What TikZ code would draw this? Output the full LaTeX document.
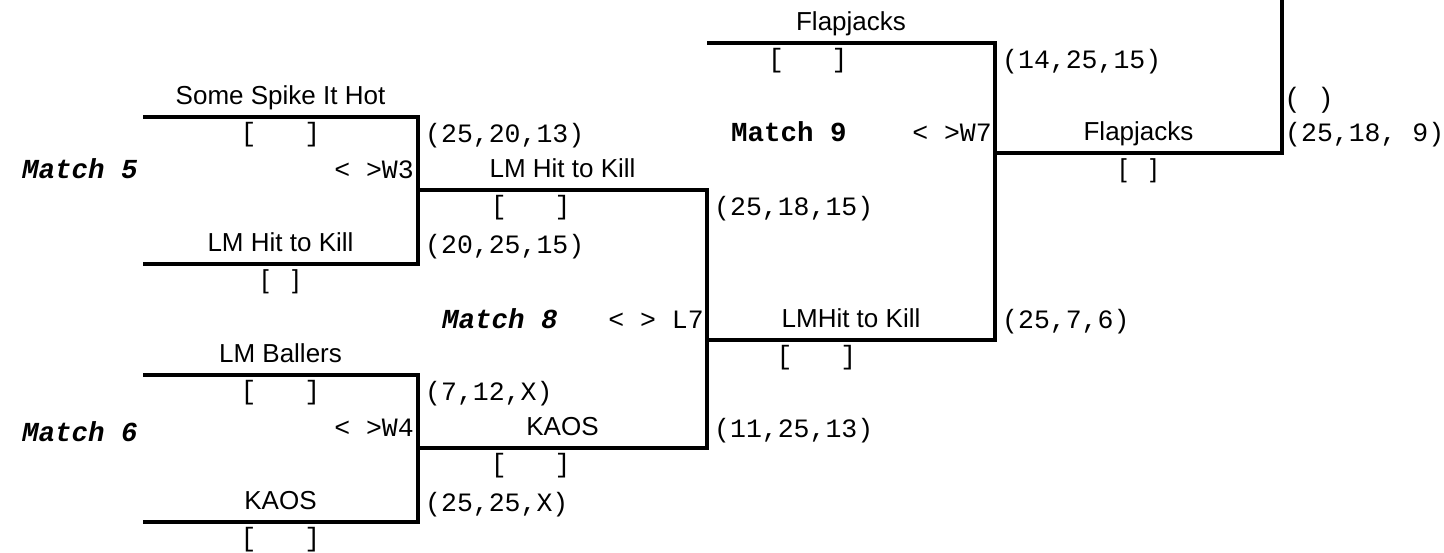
\documentclass[tikz,border=0pt]{standalone}
\usepackage{fontspec}
\setmainfont{Liberation Sans}
\setmonofont{Liberation Mono}
\usetikzlibrary{positioning}

\newcommand{\emptyslot}{[\ \ \ ]}
\newcommand{\monosize}{\fontsize{26.5}{31}\selectfont\ttfamily}

\begin{document}
\begin{tikzpicture}[x=1pt, y=-1pt, font=\fontsize{26}{31}\selectfont,
    bracket/.style={line width=3.5pt},
    team/.style={anchor=base, yshift=13pt, inner sep=0pt},
    slot/.style={anchor=base, yshift=-24pt, inner sep=0pt, font=\monosize},
    bigslot/.style={anchor=base, yshift=-24pt, inner sep=0pt},
    score/.style={anchor=base west, inner sep=0pt, font=\monosize},
    tag/.style={anchor=base east, inner sep=0pt, font=\monosize},
    matchlbl/.style={anchor=base west, inner sep=0pt, font=\fontsize{27.5}{32}\selectfont\ttfamily\bfseries}]
  \useasboundingbox (0,0) rectangle (1444,552);
  % corners of the bracket
  \coordinate (p5a) at (143,117); \coordinate (m5t) at (418,117);
  \coordinate (m5b) at (418,264); \coordinate (p5b) at (143,264);
  \coordinate (m5o) at (418,190);
  \coordinate (p6a) at (143,375); \coordinate (m6t) at (418,375);
  \coordinate (m6b) at (418,522); \coordinate (p6b) at (143,522);
  \coordinate (m6o) at (418,448);
  \coordinate (m8t) at (707,190); \coordinate (m8b) at (707,448);
  \coordinate (m8o) at (707,340);
  \coordinate (m9a) at (707,43); \coordinate (m9t) at (995,43);
  \coordinate (m9b) at (995,340); \coordinate (m9o) at (995,153);
  \coordinate (fin) at (1282,153); \coordinate (fintop) at (1282,0);

  % match 5
  \draw[bracket] (p5a) -- node[team] (t5a) {Some Spike It Hot} node[slot] (s5a) {\emptyslot} (m5t)
    -- (m5b) -- node[team] (t5b) {LM Hit to Kill} node[bigslot] (s5b) {[\hspace{.9em}]} (p5b);
  % match 6
  \draw[bracket] (p6a) -- node[team] (t6a) {LM Ballers} node[slot] (s6a) {\emptyslot} (m6t)
    -- (m6b) -- node[team] (t6b) {KAOS} node[slot] (s6b) {\emptyslot} (p6b);
  % match 8
  \draw[bracket] (m5o) -- node[team] (t8a) {LM Hit to Kill} node[slot, pos=.39] (s8a) {\emptyslot} (m8t)
    -- (m8b) -- node[team] (t8b) {KAOS} node[slot, pos=.61] (s8b) {\emptyslot} (m6o);
  % match 9
  \draw[bracket] (m9a) -- node[team] (t9a) {Flapjacks} node[slot, pos=.35] (s9a) {\emptyslot} (m9t)
    -- (m9b) -- node[team, pos=.5] (t9b) {LMHit to Kill} node[slot, pos=.62] (s9b) {\emptyslot} (m8o);
  % final
  \draw[bracket] (m9o) -- node[team] (tfin) {Flapjacks} node[bigslot] (sfin) {[\hspace{.9em}]} (fin) -- (fintop);

  \node[matchlbl] (lab5) at (22,178) {\itshape Match 5};
  \node[matchlbl] (lab6) at (22,441) {\itshape Match 6};
  \node[matchlbl] (lab8) at (442,328) {\itshape Match 8};
  \node[matchlbl] (lab9) at (731,141) {Match 9};

  \node[tag] (w5) at ([shift={(-4,-12)}]m5o) {< >W3};
  \node[tag] (w6) at ([shift={(-4,-12)}]m6o) {< >W4};
  \node[tag] (w8) at ([shift={(-3,-12)}]m8o) {< > L7};
  \node[tag] (w9) at ([shift={(-3,-12)}]m9o) {< >W7};

  \node[score] (r5a) at ([shift={(7,25)}]m5t) {(25,20,13)};
  \node[score] (r5b) at ([shift={(7,-11)}]m5b) {(20,25,15)};
  \node[score] (r6a) at ([shift={(7,25)}]m6t) {(7,12,X)};
  \node[score] (r6b) at ([shift={(7,-11)}]m6b) {(25,25,X)};
  \node[score] (r8a) at ([shift={(7,25)}]m8t) {(25,18,15)};
  \node[score] (r8b) at ([shift={(7,-11)}]m8b) {(11,25,13)};
  \node[score] (r9a) at ([shift={(7,25)}]m9t) {(14,25,15)};
  \node[score] (r9b) at ([shift={(7,-12)}]m9b) {(25,7,6)};
  \node[anchor=base west, inner sep=0pt, font=\fontsize{28}{33}\selectfont] (rfa) at ([shift={(5,-46)}]fin) {(\hspace{.9em})};
  \node[score] (rfb) at ([shift={(3,-12)}]fin) {(25,18,\ 9)};
\end{tikzpicture}
\end{document}
